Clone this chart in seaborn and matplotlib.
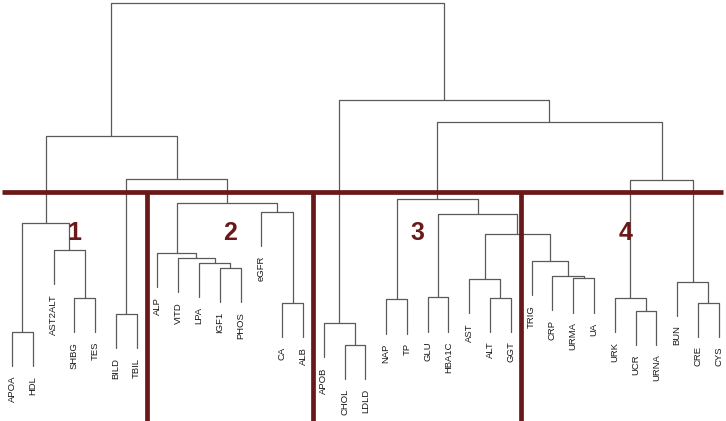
import matplotlib
matplotlib.use("Agg")
import matplotlib.pyplot as plt
import seaborn as sns
import pandas as pd

# ---- data ----
leaves = ["APOA", "HDL", "AST2ALT", "SHBG", "TES", "BILD", "TBIL",
          "ALP", "VITD", "LPA", "IGF1", "PHOS", "eGFR", "CA", "ALB",
          "APOB", "CHOL", "LDLD", "NAP", "TP", "GLU", "HBA1C", "AST", "ALT", "GGT",
          "TRIG", "CRP", "URMA", "UA", "URK", "UCR", "URNA", "BUN", "CRE", "CYS"]

# merges: children are leaf names or indices of earlier merges
merge_left = ["CHOL", "APOA", "APOB", "BILD", "UCR", "CA", "CRE", "NAP", "SHBG", "ALT",
              "URK", "GLU", "BUN", "AST", "URMA", "CRP", "IGF1", "LPA", "TRIG", "VITD",
              "ALP", "AST2ALT", 13, 1, 11, "eGFR", 20, 7, 10, 3, 23, 27, 2, 30]
merge_right = ["LDLD", "HDL", 0, "TBIL", "URNA", "ALB", "CYS", "TP", "TES", "GGT",
               4, "HBA1C", 6, 9, "UA", 14, "PHOS", 16, 15, 17,
               19, 8, 18, 21, 22, 5, 25, 24, 12, 26, 29, 28, 31, 32]
merge_height = [0.43, 0.80, 1.05, 1.31, 1.41, 1.62, 1.64, 1.73, 1.77, 1.78,
                1.78, 1.79, 2.24, 2.31, 2.33, 2.41, 2.62, 2.78, 2.83, 2.91,
                3.05, 3.14, 3.59, 3.91, 4.16, 4.24, 4.49, 4.59, 5.14, 5.16,
                6.41, 6.81, 7.43, 10.19]

cut_height = 4.79
cluster_sizes = [7, 8, 10, 10]
cluster_names = ["1", "2", "3", "4"]

# ---- layout computation (R hclust style, hang = 0.1) ----
hang = 0.1 * (max(merge_height) - min(merge_height))
leaf_x = {name: i + 1 for i, name in enumerate(leaves)}
node_x = []
rows = []
leaf_end = {}
for k, (a, b, h) in enumerate(zip(merge_left, merge_right, merge_height)):
    pts = []
    for c in (a, b):
        if isinstance(c, str):
            cx, ch = leaf_x[c], h - hang
            leaf_end[c] = ch
        else:
            cx, ch = node_x[c], merge_height[c]
        pts.append((cx, ch))
    node_x.append((pts[0][0] + pts[1][0]) / 2)
    path = [pts[0], (pts[0][0], h), (pts[1][0], h), pts[1]]
    for j, (px, py) in enumerate(path):
        rows.append({"seg": k, "order": j, "x": px, "y": py})
seg_df = pd.DataFrame(rows)

# ---- figure ----
sns.set_theme(style="white")
plt.rcParams["font.family"] = ["Liberation Sans", "DejaVu Sans"]

W, H = 726, 421
fig = plt.figure(figsize=(W / 100, H / 100), dpi=100)
ax = fig.add_axes([0, 0, 1, 1])

sp = 20.785
x0 = 1 - 12 / sp
x1 = 1 + (W - 12) / sp
k = 35.0
ax.set_xlim(x0, x1)
ax.set_ylim((360 - H) / k, 360 / k)

sns.lineplot(data=seg_df, x="x", y="y", units="seg", estimator=None, sort=False,
             color="#5a5a5a", linewidth=0.9, ax=ax, legend=False)

for name in leaves:
    ax.annotate(name, (leaf_x[name], leaf_end[name]), xytext=(0, -7.0),
                textcoords="offset points", rotation=90, ha="center", va="top",
                fontsize=6.8, color="#1a1a1a")

red = "#6b1818"
ax.plot([x0 + 2 / sp, x1 - 3 / sp], [cut_height, cut_height], color=red,
        linewidth=3.4, solid_capstyle="butt")
start = 0
bottom = (360 - H) / k
for i, (n, lab) in enumerate(zip(cluster_sizes, cluster_names)):
    centre = start + (n + 1) / 2
    ax.annotate(lab, (centre, cut_height), xytext=(0, -29), textcoords="offset points",
                ha="center", va="center", fontsize=18, fontweight="bold", color=red)
    start += n
    if i < len(cluster_sizes) - 1:
        ax.plot([start + 0.5, start + 0.5], [cut_height, bottom], color=red,
                linewidth=3.4, solid_capstyle="butt")

ax.set_axis_off()
fig.savefig("out.png", dpi=100)
